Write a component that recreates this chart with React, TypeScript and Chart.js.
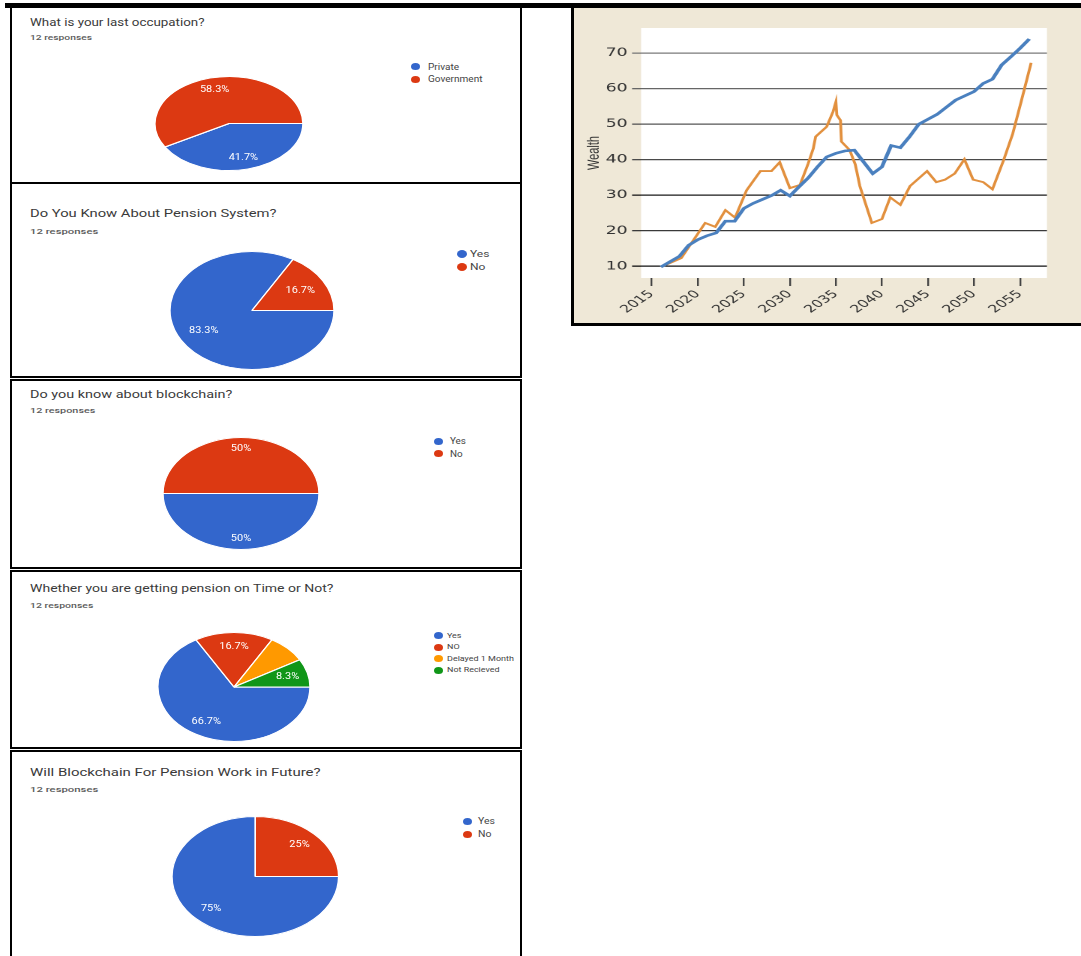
import React, { useEffect, useLayoutEffect, useRef } from 'react';
import { Chart, registerables } from 'chart.js';

Chart.register(...registerables);

// ---------------- Line chart data (Wealth) ----------------
const blueYears = [2016, 2017, 2018, 2019, 2020, 2021, 2022, 2023, 2024, 2025, 2026, 2027, 2028, 2029, 2030, 2031, 2032, 2033, 2034, 2035, 2036, 2037, 2038, 2039, 2040, 2041, 2042, 2043, 2044, 2045, 2046, 2047, 2048, 2049, 2050, 2051, 2052, 2053, 2054, 2055, 2056];
const blueWealth = [9.8, 11.3, 12.8, 15.9, 17.5, 18.6, 19.4, 22.7, 22.7, 26.3, 27.7, 28.8, 29.9, 31.4, 29.8, 32.4, 34.9, 38.0, 40.8, 41.8, 42.5, 42.7, 39.4, 36.1, 38.0, 44.0, 43.4, 46.5, 50.0, 51.4, 52.8, 54.8, 56.8, 58.0, 59.2, 61.5, 62.7, 66.7, 69.0, 71.4, 74.0];

const orangeYears = [2016.0, 2018.2, 2020.8, 2021.9, 2023.0, 2024.05, 2025.3, 2026.8, 2028.0, 2028.9, 2030.0, 2031.1, 2032.0, 2032.55, 2032.8, 2034.0, 2034.7, 2035.0, 2035.1, 2035.5, 2035.6, 2036.5, 2037.1, 2037.3, 2037.6, 2038.9, 2040.0, 2040.9, 2042.0, 2043.05, 2044.9, 2045.9, 2046.85, 2047.9, 2048.95, 2049.9, 2051.0, 2052.0, 2053.2, 2054.2, 2055.2, 2056.2];
const orangeWealth = [9.8, 12.3, 22.2, 21.1, 25.8, 23.7, 31.4, 36.8, 36.8, 39.3, 32.0, 32.9, 39.0, 43.2, 46.5, 49.3, 53.6, 56.3, 52.6, 51.1, 45.1, 42.7, 38.7, 36.3, 32.6, 22.2, 23.3, 29.4, 27.3, 32.6, 36.8, 33.7, 34.4, 36.1, 40.1, 34.4, 33.7, 31.7, 39.8, 47.3, 57.2, 67.3];

const xTickYears = [2015, 2020, 2025, 2030, 2035, 2040, 2045, 2050, 2055];
const yTickValues = [10, 20, 30, 40, 50, 60, 70];
const yAxisTitle = 'Wealth';

// ---------------- Survey pie data ----------------
const responsesText = '12 responses';

const q1Title = 'What is your last occupation?';
const q1Labels = ['Private', 'Government'];
const q1Counts = [5, 7];

const q2Title = 'Do You Know About Pension System?';
const q2Labels = ['Yes', 'No'];
const q2Counts = [10, 2];

const q3Title = 'Do you know about blockchain?';
const q3Labels = ['Yes', 'No'];
const q3Counts = [6, 6];

const q4Title = 'Whether you are getting pension on Time or Not?';
const q4Labels = ['Yes', 'NO', 'Delayed 1 Month', 'Not Recieved'];
const q4Counts = [8, 2, 1, 1];
const q4HiddenSliceLabels = [2];

const q5Title = 'Will Blockchain For Pension Work in Future?';
const q5Labels = ['Yes', 'No'];
const q5Counts = [9, 3];

const pieColors = ['#3366CC', '#DC3912', '#FF9900', '#109618'];

// ---------------- Layout (positions / styles only) ----------------
type PanelLayout = {
  top: number; height: number;
  titleY: number; titleW: number; subY: number; subW: number;
  cx: number; cy: number; rx: number; ry: number; f: number;
  lx: number; ly: number; ldy: number; tx: number; lsize: number; lsx: number; dotW: number; dotH: number;
};

const panelLayouts: PanelLayout[] = [
  { top: 3, height: 181, titleY: 21.7, titleW: 175, subY: 37.7, subW: 61.7, cx: 229, cy: 123, rx: 74, ry: 47, f: 0.75, lx: 415, ly: 66.7, ldy: 12.3, tx: 427.7, lsize: 8.5, lsx: 1.18, dotW: 9, dotH: 7 },
  { top: 182, height: 196, titleY: 213.3, titleW: 247, subY: 231.7, subW: 68, cx: 252, cy: 310, rx: 82, ry: 59, f: 0.68, lx: 462, ly: 254.3, ldy: 12.4, tx: 470, lsize: 9.5, lsx: 1.26, dotW: 10, dotH: 8 },
  { top: 379, height: 190, titleY: 394.3, titleW: 202, subY: 411, subW: 65, cx: 241, cy: 493.3, rx: 78, ry: 56, f: 0.8, lx: 438.7, ly: 441.3, ldy: 12.4, tx: 450, lsize: 8.5, lsx: 1.16, dotW: 9, dotH: 7 },
  { top: 570, height: 179, titleY: 588.3, titleW: 303, subY: 606, subW: 63, cx: 233.5, cy: 686.5, rx: 76, ry: 54.5, f: 0.73, lx: 438.7, ly: 635.7, ldy: 11.5, tx: 446.7, lsize: 8, lsx: 1.12, dotW: 9, dotH: 7 },
  { top: 750, height: 220, titleY: 771.7, titleW: 290, subY: 790, subW: 68, cx: 255, cy: 876.7, rx: 83.3, ry: 60, f: 0.75, lx: 467, ly: 821.3, ldy: 12.7, tx: 478.3, lsize: 9, lsx: 1.16, dotW: 9, dotH: 7 },
];

const panels = [
  { title: q1Title, labels: q1Labels, counts: q1Counts, hidden: [] as number[] },
  { title: q2Title, labels: q2Labels, counts: q2Counts, hidden: [] as number[] },
  { title: q3Title, labels: q3Labels, counts: q3Counts, hidden: [] as number[] },
  { title: q4Title, labels: q4Labels, counts: q4Counts, hidden: q4HiddenSliceLabels },
  { title: q5Title, labels: q5Labels, counts: q5Counts, hidden: [] as number[] },
];

function FitText({ text, x, cy, width, size, color, weight = 400 }: { text: string; x: number; cy: number; width: number; size: number; color: string; weight?: number }) {
  const ref = useRef<HTMLSpanElement>(null);
  useLayoutEffect(() => {
    const el = ref.current;
    if (!el) return;
    const natural = el.offsetWidth;
    if (natural > 0) el.style.transform = `translateY(-50%) scaleX(${width / natural})`;
  }, [text, width]);
  return (
    <span
      ref={ref}
      style={{
        position: 'absolute', left: x, top: cy, fontFamily: 'Roboto, Arial, sans-serif', fontSize: size,
        fontWeight: weight, color, lineHeight: 1, whiteSpace: 'nowrap', transformOrigin: '0 50%', transform: 'translateY(-50%)',
      }}
    >
      {text}
    </span>
  );
}

function pctText(v: number, total: number) {
  const p = Math.round((v / total) * 1000) / 10;
  return (Number.isInteger(p) ? p.toFixed(0) : p.toFixed(1)) + '%';
}

function SurveyPie({ labels, counts, hidden, L }: { labels: string[]; counts: number[]; hidden: number[]; L: PanelLayout }) {
  const ref = useRef<HTMLCanvasElement>(null);
  useEffect(() => {
    const total = counts.reduce((a, b) => a + b, 0);
    const ellipsePlugin = {
      id: 'ellipseLabels',
      beforeDatasetsDraw(chart: any) {
        const arc = chart.getDatasetMeta(0).data[0] as any;
        const ca = chart.chartArea;
        const k = ca.width / 2 / arc.outerRadius;
        const ctx = chart.ctx;
        ctx.save();
        ctx.translate(arc.x, arc.y);
        ctx.scale(k, 1);
        ctx.translate(-arc.x, -arc.y);
      },
      afterDatasetsDraw(chart: any) {
        const ctx = chart.ctx;
        ctx.restore();
        const meta = chart.getDatasetMeta(0);
        const ca = chart.chartArea;
        meta.data.forEach((a: any, i: number) => {
          if (hidden.includes(i)) return;
          const k = ca.width / 2 / a.outerRadius;
          const mid = (a.startAngle + a.endAngle) / 2;
          const px = a.x + Math.cos(mid) * a.outerRadius * L.f * k;
          const py = a.y + Math.sin(mid) * a.outerRadius * L.f;
          ctx.save();
          ctx.translate(px, py);
          ctx.scale(1.22, 1);
          ctx.font = '9px Roboto, Arial, sans-serif';
          ctx.fillStyle = '#ffffff';
          ctx.textAlign = 'center';
          ctx.textBaseline = 'middle';
          ctx.fillText(pctText(counts[i], total), 0, 0);
          ctx.restore();
        });
      },
    };
    const chart = new Chart(ref.current as HTMLCanvasElement, {
      type: 'pie',
      data: {
        labels,
        datasets: [{ data: counts, backgroundColor: pieColors.slice(0, counts.length), borderColor: '#ffffff', borderWidth: 1 }],
      },
      options: {
        animation: false,
        responsive: true,
        maintainAspectRatio: false,
        rotation: 90,
        layout: { padding: 0 },
        plugins: { legend: { display: false }, tooltip: { enabled: false } },
      },
      plugins: [ellipsePlugin],
    } as any);
    return () => chart.destroy();
  }, []);
  return (
    <div style={{ position: 'absolute', left: L.cx - L.rx, top: L.cy - L.ry - 0.5, width: 2 * L.rx, height: 2 * L.ry + 1 }}>
      <canvas ref={ref} />
    </div>
  );
}

function SurveyPanel({ idx }: { idx: number }) {
  const P = panels[idx];
  const L = panelLayouts[idx];
  return (
    <>
      <div style={{ position: 'absolute', left: 10, top: L.top, width: 512, height: L.height, border: '2px solid #000', boxSizing: 'border-box', background: '#fff' }} />
      <FitText text={P.title} x={30} cy={L.titleY} width={L.titleW} size={11} color="#3a3a3a" />
      <FitText text={responsesText} x={30} cy={L.subY} width={L.subW} size={8} color="#5a5a5a" weight={500} />
      <SurveyPie labels={P.labels} counts={P.counts} hidden={P.hidden} L={L} />
      {P.labels.map((lab, i) => (
        <React.Fragment key={lab}>
          <div style={{ position: 'absolute', left: L.lx - L.dotW / 2, top: L.ly + i * L.ldy - L.dotH / 2, width: L.dotW, height: L.dotH, borderRadius: '50%', background: pieColors[i] }} />
          <span
            style={{
              position: 'absolute', left: L.tx, top: L.ly + i * L.ldy, fontFamily: 'Roboto, Arial, sans-serif', fontSize: L.lsize,
              color: '#444', lineHeight: 1, whiteSpace: 'nowrap', transformOrigin: '0 50%', transform: `translateY(-50%) scaleX(${L.lsx})`,
            }}
          >
            {lab}
          </span>
        </React.Fragment>
      ))}
    </>
  );
}

const gridColorByValue: Record<number, string> = { 70: '#7a7a7a', 60: '#666666', 50: '#555555', 40: '#4a4a4a', 30: '#1a1a1a', 20: '#3a3a3a', 10: '#111111' };

function WealthChart() {
  const ref = useRef<HTMLCanvasElement>(null);
  useEffect(() => {
    const bgPlugin = {
      id: 'plotBg',
      beforeDraw(chart: any) {
        const { ctx, chartArea: a, width, height } = chart;
        ctx.save();
        ctx.fillStyle = '#efe8d7';
        ctx.fillRect(0, 0, width, height);
        ctx.fillStyle = '#ffffff';
        ctx.fillRect(a.left, a.top, a.right - a.left, a.bottom - a.top);
        ctx.restore();
      },
    };
    const chart = new Chart(ref.current as HTMLCanvasElement, {
      type: 'line',
      data: {
        datasets: [
          { data: blueYears.map((x, i) => ({ x, y: blueWealth[i] })), borderColor: '#4a80bf', borderWidth: 2.6, pointRadius: 0, tension: 0, fill: false },
          { data: orangeYears.map((x, i) => ({ x, y: orangeWealth[i] })), borderColor: '#e2903e', borderWidth: 1.9, pointRadius: 0, tension: 0, fill: false },
        ],
      },
      options: {
        animation: false,
        responsive: true,
        maintainAspectRatio: false,
        devicePixelRatio: 2,
        layout: { padding: { left: 0, top: 20, right: 22.7, bottom: 0 } },
        plugins: { legend: { display: false }, tooltip: { enabled: false } },
        scales: {
          x: {
            type: 'linear',
            min: 2013.84,
            max: 2057.92,
            afterBuildTicks: (s: any) => { s.ticks = xTickYears.map((v) => ({ value: v })); },
            afterFit: (s: any) => { s.height = 45; },
            border: { display: false },
            grid: { drawOnChartArea: false, drawTicks: true, tickLength: 8, color: '#444', lineWidth: 1.2 },
            ticks: {
              autoSkip: false, minRotation: 45, maxRotation: 45, padding: 2, color: '#333',
              font: { family: 'DejaVu Sans', size: 10.5 },
              callback: (v: any) => String(v),
            },
          },
          y: {
            min: 6.7,
            max: 77.1,
            afterBuildTicks: (s: any) => { s.ticks = yTickValues.map((v) => ({ value: v })); },
            afterFit: (s: any) => { s.width = 44.7; },
            border: { display: false },
            grid: {
              drawTicks: true, tickLength: 6, lineWidth: 1.3,
              color: (c: any) => gridColorByValue[c.tick?.value] || '#444',
            },
            ticks: { padding: 3, color: '#333', font: { family: 'DejaVu Sans', size: 11.5 }, callback: (v: any) => String(v) },
            title: {
              display: true, text: yAxisTitle, color: '#333',
              font: { family: 'Liberation Sans Narrow, Liberation Sans, sans-serif', size: 11 },
              padding: { top: 7, bottom: 0 },
            },
          },
        },
      },
      plugins: [bgPlugin],
    } as any);
    return () => chart.destroy();
  }, []);
  return (
    <div style={{ position: 'absolute', left: 574, top: 8, width: 338, height: 315, transform: 'scaleX(1.5)', transformOrigin: '0 0' }}>
      <canvas ref={ref} />
    </div>
  );
}

export default function App() {
  return (
    <div style={{ position: 'absolute', left: 0, top: 0, width: 1081, height: 956, overflow: 'hidden', background: '#fff' }}>
      {panels.map((_, i) => (
        <SurveyPanel key={i} idx={i} />
      ))}
      <div style={{ position: 'absolute', left: 571, top: 3, width: 510, height: 323, background: '#efe8d7', borderLeft: '3px solid #000', borderBottom: '3px solid #000', boxSizing: 'border-box' }} />
      <WealthChart />
      <div style={{ position: 'absolute', left: 5, top: 3, width: 1076, height: 5, background: '#000' }} />
    </div>
  );
}
